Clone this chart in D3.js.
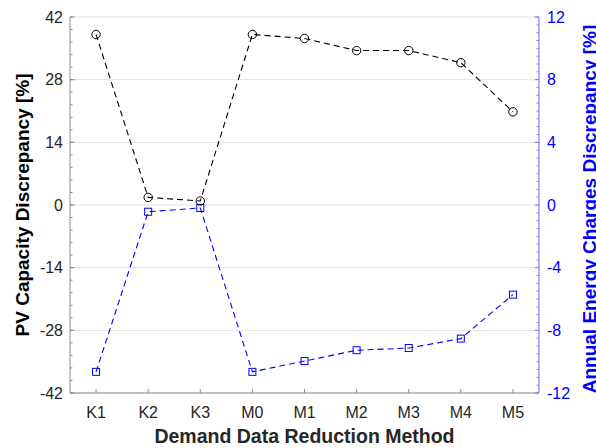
<!DOCTYPE html>
<html>
<head>
<meta charset="utf-8">
<script src="https://cdn.jsdelivr.net/npm/d3@7"></script>
<style>
  body { margin: 0; background: #fff; }
  svg { display: block; font-family: "Liberation Sans", Arial, sans-serif; }
</style>
</head>
<body>
<div id="container"></div>
<script>
// data
var methods = ['K1', 'K2', 'K3', 'M0', 'M1', 'M2', 'M3', 'M4', 'M5']
var pvCapacity = [38.1, 1.7, 0.9, 38.1, 37.2, 34.5, 34.5, 31.8, 20.8]
var energyCharges = [-10.65, -0.43, -0.19, -10.65, -9.96, -9.27, -9.13, -8.53, -5.72]
var leftTicks = [-42, -28, -14, 0, 14, 28, 42]
var rightTicks = [-12, -8, -4, 0, 4, 8, 12]

var W = 596, H = 448
var margin = { top: 17, right: 57, bottom: 55, left: 70 },
    width = W - margin.left - margin.right,
    height = H - margin.top - margin.bottom

var blue = '#0000ff', blueAxis = '#8080ff', ink = '#262626', axisGrey = '#8c8c8c'

var svg = d3.select('#container').append('svg')
    .attr('width', W).attr('height', H)
var g = svg.append('g')
    .attr('transform', 'translate(' + margin.left + ',' + margin.top + ')')

var x = d3.scaleLinear().domain([0.5, methods.length + 0.5]).range([0, width])
var yL = d3.scaleLinear().domain([-42, 42]).range([height, 0])
var yR = d3.scaleLinear().domain([-12, 12]).range([height, 0])

// gridlines
g.append('g').selectAll('line').data(leftTicks).enter().append('line')
    .attr('x1', 0).attr('x2', width)
    .attr('y1', function(d) { return yL(d) }).attr('y2', function(d) { return yL(d) })
    .style('stroke', '#e3e3e3').style('stroke-width', 1)

// left axis (ticks pointing inward)
var minorL = d3.range(-42, 42.01, 2.8)
var gl = g.append('g')
gl.selectAll('.minor').data(minorL).enter().append('line')
    .attr('x1', 0).attr('x2', 2.5)
    .attr('y1', function(d) { return yL(d) }).attr('y2', function(d) { return yL(d) })
    .style('stroke', axisGrey)
gl.selectAll('.major').data(leftTicks).enter().append('line')
    .attr('x1', 0).attr('x2', 4.5)
    .attr('y1', function(d) { return yL(d) }).attr('y2', function(d) { return yL(d) })
    .style('stroke', axisGrey)
gl.append('line').attr('x1', 0).attr('x2', 0).attr('y1', 0).attr('y2', height)
    .style('stroke', axisGrey)
gl.selectAll('text').data(leftTicks).enter().append('text')
    .attr('x', -7).attr('y', function(d) { return yL(d) }).attr('dy', '0.36em')
    .attr('text-anchor', 'end').style('font-size', '16px').style('fill', ink)
    .text(function(d) { return d })

// right axis
var minorR = d3.range(-12, 12.01, 0.5)
var gr = g.append('g').attr('transform', 'translate(' + width + ',0)')
gr.selectAll('.minor').data(minorR).enter().append('line')
    .attr('x1', 0).attr('x2', -2.5)
    .attr('y1', function(d) { return yR(d) }).attr('y2', function(d) { return yR(d) })
    .style('stroke', blueAxis)
gr.selectAll('.major').data(rightTicks).enter().append('line')
    .attr('x1', 0).attr('x2', -4.5)
    .attr('y1', function(d) { return yR(d) }).attr('y2', function(d) { return yR(d) })
    .style('stroke', blueAxis)
gr.append('line').attr('x1', 0).attr('x2', 0).attr('y1', 0).attr('y2', height)
    .style('stroke', blueAxis).style('stroke-width', 1.2)
gr.selectAll('text').data(rightTicks).enter().append('text')
    .attr('x', 8).attr('y', function(d) { return yR(d) }).attr('dy', '0.36em')
    .attr('text-anchor', 'start').style('font-size', '16px').style('fill', blue)
    .text(function(d) { return d })

// bottom axis
var gb = g.append('g').attr('transform', 'translate(0,' + height + ')')
gb.append('line').attr('x1', 0).attr('x2', width).style('stroke', axisGrey)
gb.selectAll('.tick').data(methods).enter().append('line')
    .attr('x1', function(d, i) { return x(i + 1) }).attr('x2', function(d, i) { return x(i + 1) })
    .attr('y1', 0).attr('y2', -4).style('stroke', axisGrey)
gb.selectAll('text').data(methods).enter().append('text')
    .attr('x', function(d, i) { return x(i + 1) }).attr('y', 25)
    .attr('text-anchor', 'middle').style('font-size', '16px').style('fill', ink)
    .text(function(d) { return d })

// series
var lineL = d3.line().x(function(d, i) { return x(i + 1) }).y(function(d) { return yL(d) })
var lineR = d3.line().x(function(d, i) { return x(i + 1) }).y(function(d) { return yR(d) })

g.append('path').datum(energyCharges).attr('d', lineR)
    .style('fill', 'none').style('stroke', blue).style('stroke-width', 1.1)
    .style('stroke-dasharray', '6,4')
g.selectAll('.sq').data(energyCharges).enter().append('rect')
    .attr('x', function(d, i) { return x(i + 1) - 3.5 }).attr('y', function(d) { return yR(d) - 3.5 })
    .attr('width', 7).attr('height', 7)
    .style('fill', 'none').style('stroke', blue).style('stroke-width', 1)

g.append('path').datum(pvCapacity).attr('d', lineL)
    .style('fill', 'none').style('stroke', '#000').style('stroke-width', 1.1)
    .style('stroke-dasharray', '6,4')
g.selectAll('.circ').data(pvCapacity).enter().append('circle')
    .attr('cx', function(d, i) { return x(i + 1) }).attr('cy', function(d) { return yL(d) })
    .attr('r', 4.2)
    .style('fill', 'none').style('stroke', '#000').style('stroke-width', 1)

// axis titles
svg.append('text')
    .attr('transform', 'translate(' + 29 + ',' + (margin.top + height / 2) + ') rotate(-90)')
    .attr('text-anchor', 'middle').style('font-size', '19px').style('font-weight', 'bold')
    .style('fill', '#000').text('PV Capacity Discrepancy [%]')

// the reference clips this title at the right edge
svg.append('text')
    .attr('transform', 'translate(' + 596 + ',' + (margin.top + height / 2 + 4) + ') rotate(-90)')
    .attr('text-anchor', 'middle').style('font-size', '19px').style('font-weight', 'bold')
    .style('fill', blue).text('Annual Energy Charges Discrepancy [%]')

svg.append('text')
    .attr('x', margin.left + width / 2).attr('y', 443)
    .attr('text-anchor', 'middle').style('font-size', '19.5px').style('font-weight', 'bold')
    .style('fill', ink).text('Demand Data Reduction Method')
</script>
</body>
</html>
